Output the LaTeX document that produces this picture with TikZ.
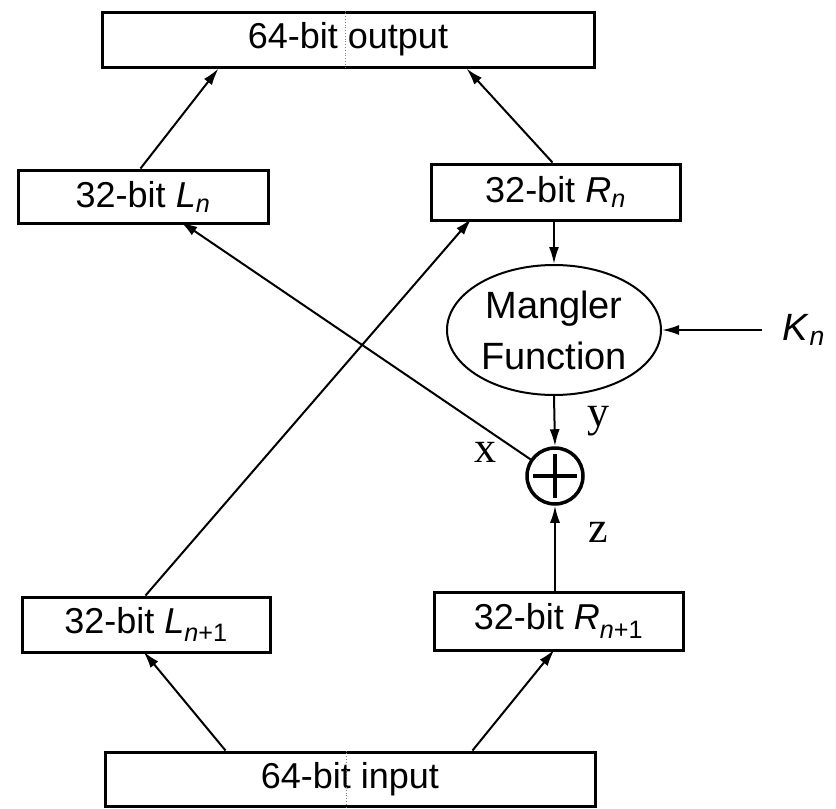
\documentclass[tikz,border=0pt]{standalone}
\usepackage{fontspec}
\setmainfont{Liberation Sans}
\newfontfamily\serifx{Liberation Serif}
\usetikzlibrary{arrows.meta,shapes.geometric}
\begin{document}
\begin{tikzpicture}[x=1pt,y=-1pt,
  box/.style={draw,line width=3pt,inner sep=0pt,font=\fontsize{36}{40}\selectfont},
  arr/.style={line width=2pt,-{Latex[length=17,width=10]}},
  lbl/.style={font=\serifx\fontsize{44}{46}\selectfont,inner sep=0pt},
  scanmark/.style={gray,line width=0.8pt,dotted}]
\useasboundingbox (0,0) rectangle (836,809);
\node[box,minimum width=492,minimum height=55] (out) at (348,39.5) {64-bit output};
\node[box,minimum width=250,minimum height=53] (Ln) at (143,196.5) {32-bit \textit{L}\textsubscript{\textit{n}}};
\node[box,minimum width=249,minimum height=56] (Rn) at (555.5,192) {32-bit \textit{R}\textsubscript{\textit{n}}};
\node[ellipse,draw,line width=2pt,minimum width=214,minimum height=130,inner sep=0pt,align=center,font=\fontsize{38}{51}\selectfont] (mf) at (554,330) {Mangler\\Function};
\node[font=\fontsize{38}{40}\selectfont,inner sep=0pt] (Kn) at (804,330) {\textit{K}\textsubscript{\textit{n}}};
\coordinate (Knstart) at (762,330);
\node[circle,draw,line width=3.5pt,minimum size=56,inner sep=0pt,
  path picture={\draw[line width=4pt] ([yshift=-6]path picture bounding box.north) -- ([yshift=6]path picture bounding box.south)
  ([xshift=6]path picture bounding box.west) -- ([xshift=-6]path picture bounding box.east);}] (xor) at (555,476) {};
\node[lbl] (lx) at (485,452) {x};
\node[lbl] (ly) at (598,421) {y};
\node[lbl] (lz) at (598,532) {z};
\node[box,minimum width=248,minimum height=55] (Ln1) at (146,624.5) {32-bit \textit{L}\textsubscript{\textit{n}+1}};
\node[box,minimum width=249,minimum height=58] (Rn1) at (558.5,621) {32-bit \textit{R}\textsubscript{\textit{n}+1}};
\node[box,minimum width=490,minimum height=54] (in) at (350,779) {64-bit input};
% faint scan marks inside the two wide boxes
\draw[scanmark] ([xshift=245]out.north west) -- ([xshift=245]out.south west);
\draw[scanmark] ([xshift=243]in.north west) -- ([xshift=243]in.south west);
% connectors
\draw[arr] ([xshift=124]Ln.north west) -- ([xshift=118]out.south west);
\draw[arr] ([xshift=123]Rn.north west) -- ([xshift=366]out.south west);
\draw[arr] (mf.north |- Rn.south) -- (mf.north);
\draw[arr] (Knstart) -- (mf.east);
\draw[arr] (mf.south) -- (xor.north);
\draw[arr] (xor) -- ([xshift=164,yshift=3]Ln.south west);
\draw[arr] ([xshift=125]Ln1.north west) -- ([xshift=42,yshift=3]Rn.south west);
\draw[arr] (xor.south |- Rn1.north) -- (xor.south);
\draw[arr] ([xshift=122]in.north west) -- ([xshift=123,yshift=2]Ln1.south west);
\draw[arr] ([xshift=369]in.north west) -- ([xshift=122,yshift=2]Rn1.south west);
\end{tikzpicture}
\end{document}
